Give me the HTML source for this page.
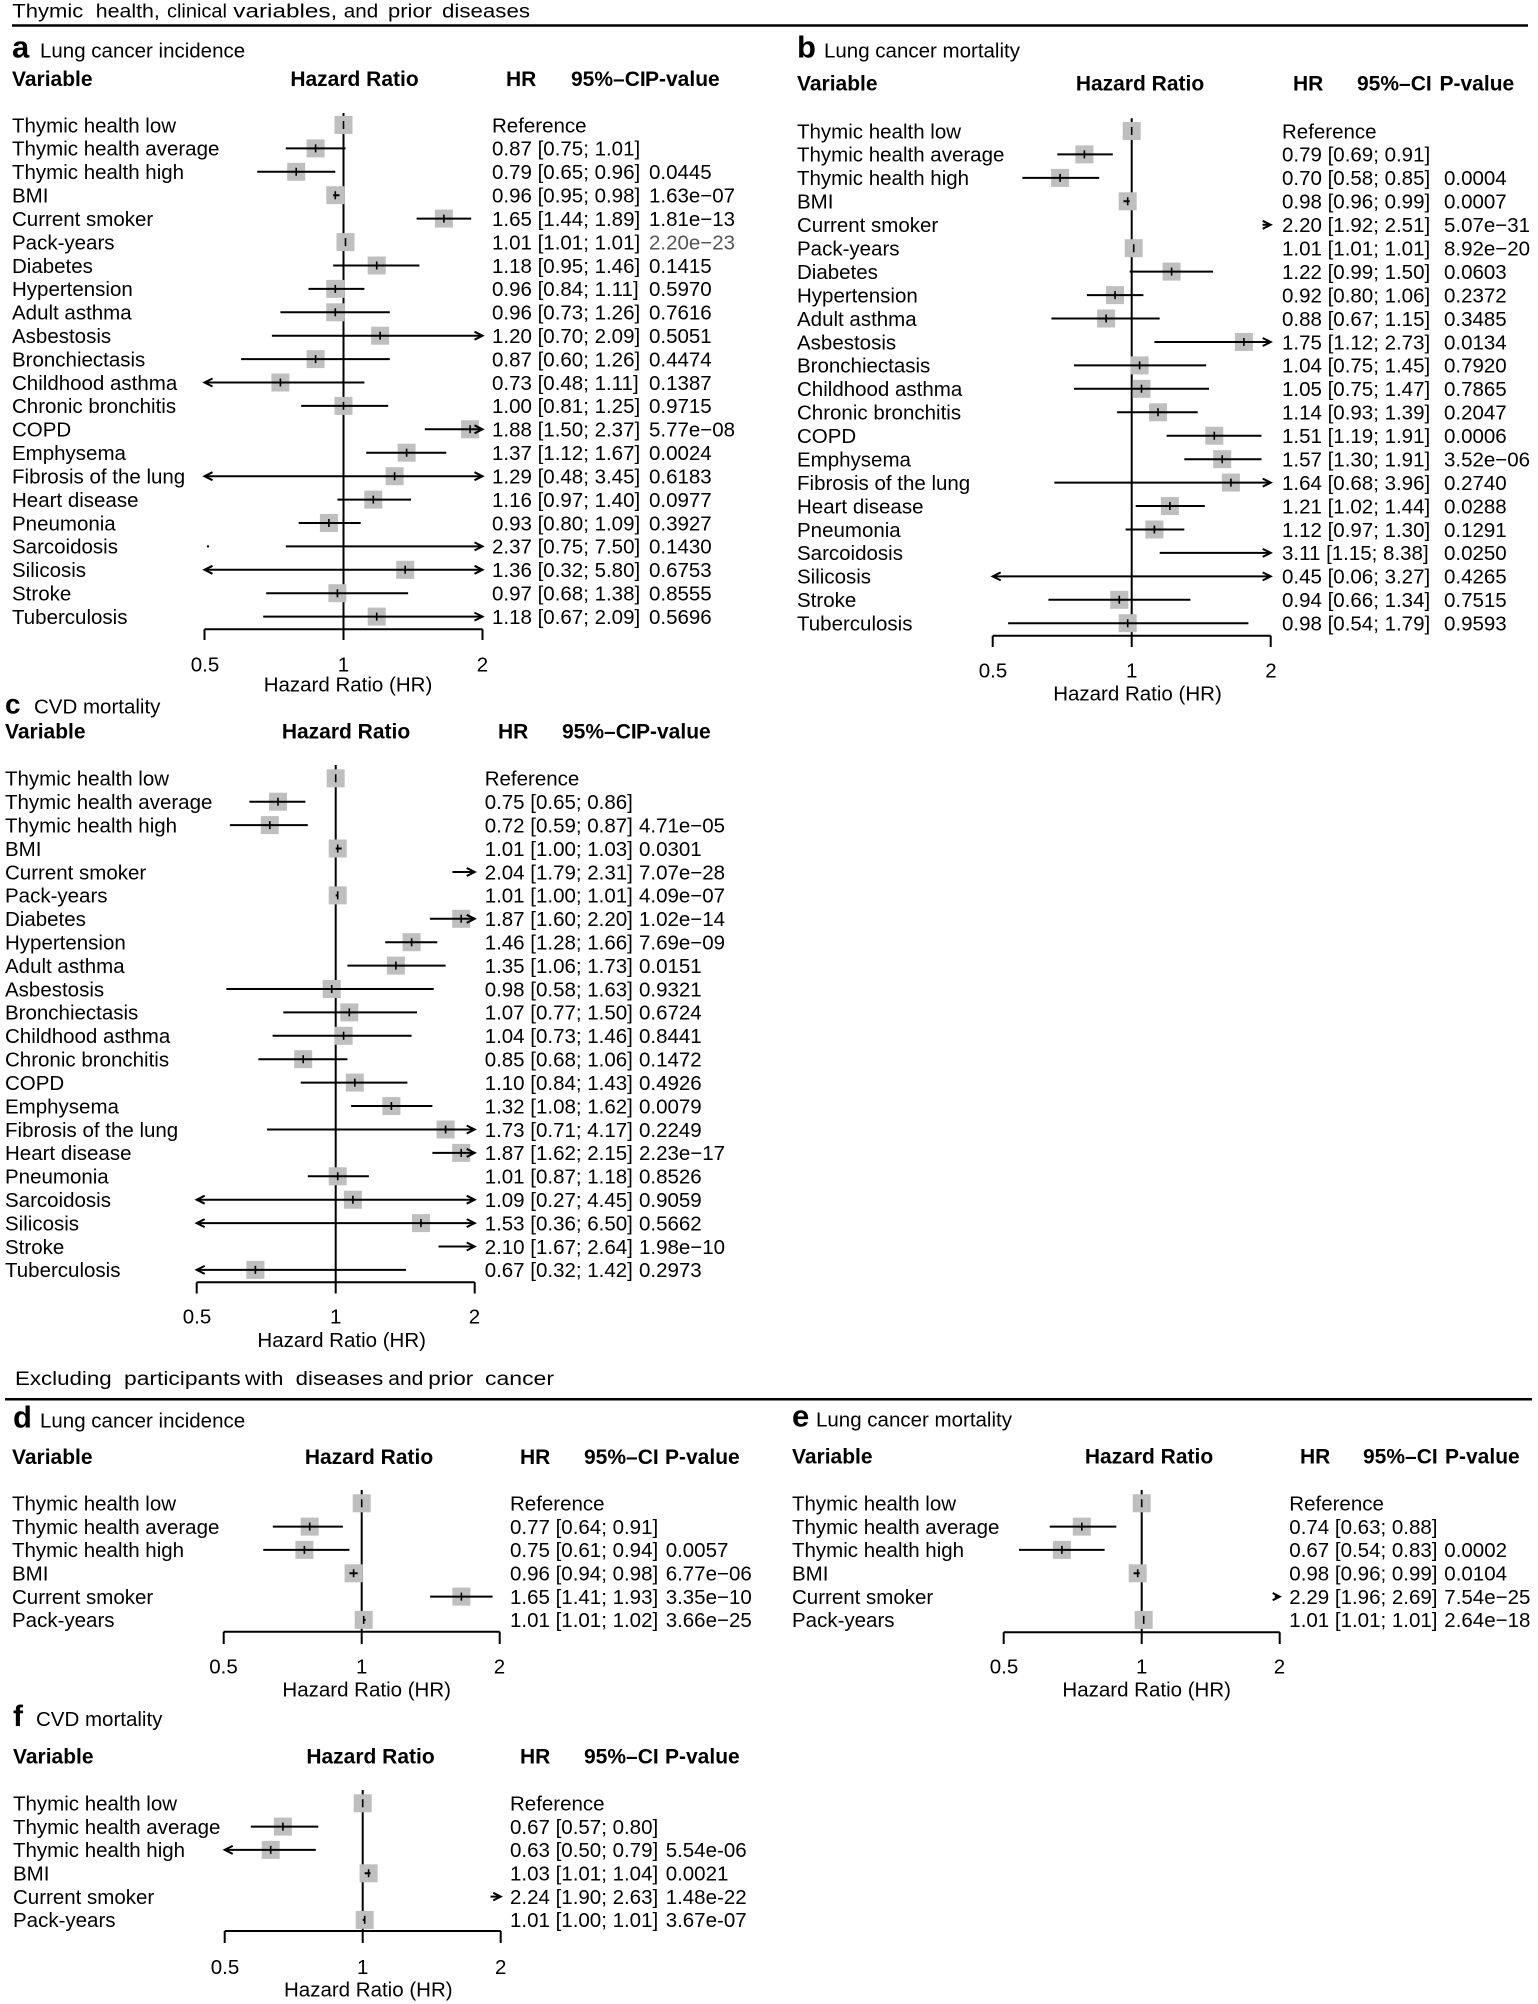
<!DOCTYPE html>
<html><head><meta charset="utf-8">
<style>
html,body{margin:0;padding:0;background:#fff;}
svg{display:block;}
text{font-family:"Liberation Sans",Arial,Helvetica,sans-serif;font-size:20.5px;fill:#000;}
.h{font-weight:bold;font-size:21px;}
.L{font-weight:bold;}
.ttl{font-size:19px;}
.m{text-anchor:middle;}
.ln{stroke:#000;stroke-width:2;fill:none;}
.tk{stroke:#000;stroke-width:1.6;fill:none;}
.bx{fill:#bfbfbf;}
</style></head>
<body>
<svg width="1538" height="2004" viewBox="0 0 1538 2004" xmlns="http://www.w3.org/2000/svg">
<rect width="1538" height="2004" fill="#fff"/>

<!-- Section 1 title -->
<text class="ttl" x="12.3" y="17.5" textLength="71" lengthAdjust="spacingAndGlyphs">Thymic</text>
<text class="ttl" x="95.8" y="17.5" textLength="64" lengthAdjust="spacingAndGlyphs">health,</text>
<text class="ttl" x="167" y="17.5" textLength="60" lengthAdjust="spacingAndGlyphs">clinical</text>
<text class="ttl" x="233.3" y="17.5" textLength="104" lengthAdjust="spacingAndGlyphs">variables,</text>
<text class="ttl" x="343.8" y="17.5" textLength="34.4" lengthAdjust="spacingAndGlyphs">and</text>
<text class="ttl" x="388" y="17.5" textLength="44" lengthAdjust="spacingAndGlyphs">prior</text>
<text class="ttl" x="442" y="17.5" textLength="88" lengthAdjust="spacingAndGlyphs">diseases</text>
<path d="M12 25.5H1528" stroke="#000" stroke-width="2.5"/>

<!-- ================= PANEL A ================= -->
<text class="L" x="12" y="57.3" style="font-size:31px">a</text>
<text x="40" y="57.3">Lung cancer incidence</text>
<text class="h" x="12" y="86">Variable</text>
<text class="h m" x="354.5" y="86">Hazard Ratio</text>
<text class="h" x="506" y="86">HR</text>
<text class="h" x="571" y="86">95%–CI</text>
<text class="h" x="645" y="86">P-value</text>

<text>
<tspan x="12" y="132.3">Thymic health low</tspan>
<tspan x="12" y="155.7">Thymic health average</tspan>
<tspan x="12" y="179.1">Thymic health high</tspan>
<tspan x="12" y="202.5">BMI</tspan>
<tspan x="12" y="225.9">Current smoker</tspan>
<tspan x="12" y="249.4">Pack-years</tspan>
<tspan x="12" y="272.8">Diabetes</tspan>
<tspan x="12" y="296.2">Hypertension</tspan>
<tspan x="12" y="319.6">Adult asthma</tspan>
<tspan x="12" y="343.0">Asbestosis</tspan>
<tspan x="12" y="366.4">Bronchiectasis</tspan>
<tspan x="12" y="389.8">Childhood asthma</tspan>
<tspan x="12" y="413.2">Chronic bronchitis</tspan>
<tspan x="12" y="436.6">COPD</tspan>
<tspan x="12" y="460.0">Emphysema</tspan>
<tspan x="12" y="483.5">Fibrosis of the lung</tspan>
<tspan x="12" y="506.9">Heart disease</tspan>
<tspan x="12" y="530.3">Pneumonia</tspan>
<tspan x="12" y="553.7">Sarcoidosis</tspan>
<tspan x="12" y="577.1">Silicosis</tspan>
<tspan x="12" y="600.5">Stroke</tspan>
<tspan x="12" y="623.9">Tuberculosis</tspan>
</text>
<text>
<tspan x="492" y="132.3">Reference</tspan>
<tspan x="492" y="155.7">0.87 [0.75; 1.01]</tspan>
<tspan x="492" y="179.1">0.79 [0.65; 0.96]</tspan>
<tspan x="492" y="202.5">0.96 [0.95; 0.98]</tspan>
<tspan x="492" y="225.9">1.65 [1.44; 1.89]</tspan>
<tspan x="492" y="249.4">1.01 [1.01; 1.01]</tspan>
<tspan x="492" y="272.8">1.18 [0.95; 1.46]</tspan>
<tspan x="492" y="296.2">0.96 [0.84; 1.11]</tspan>
<tspan x="492" y="319.6">0.96 [0.73; 1.26]</tspan>
<tspan x="492" y="343.0">1.20 [0.70; 2.09]</tspan>
<tspan x="492" y="366.4">0.87 [0.60; 1.26]</tspan>
<tspan x="492" y="389.8">0.73 [0.48; 1.11]</tspan>
<tspan x="492" y="413.2">1.00 [0.81; 1.25]</tspan>
<tspan x="492" y="436.6">1.88 [1.50; 2.37]</tspan>
<tspan x="492" y="460.0">1.37 [1.12; 1.67]</tspan>
<tspan x="492" y="483.5">1.29 [0.48; 3.45]</tspan>
<tspan x="492" y="506.9">1.16 [0.97; 1.40]</tspan>
<tspan x="492" y="530.3">0.93 [0.80; 1.09]</tspan>
<tspan x="492" y="553.7">2.37 [0.75; 7.50]</tspan>
<tspan x="492" y="577.1">1.36 [0.32; 5.80]</tspan>
<tspan x="492" y="600.5">0.97 [0.68; 1.38]</tspan>
<tspan x="492" y="623.9">1.18 [0.67; 2.09]</tspan>
</text>
<text>
<tspan x="649" y="179.1">0.0445</tspan>
<tspan x="649" y="202.5">1.63e−07</tspan>
<tspan x="649" y="225.9">1.81e−13</tspan>
<tspan x="649" y="249.4" style="fill:#555">2.20e−23</tspan>
<tspan x="649" y="272.8">0.1415</tspan>
<tspan x="649" y="296.2">0.5970</tspan>
<tspan x="649" y="319.6">0.7616</tspan>
<tspan x="649" y="343.0">0.5051</tspan>
<tspan x="649" y="366.4">0.4474</tspan>
<tspan x="649" y="389.8">0.1387</tspan>
<tspan x="649" y="413.2">0.9715</tspan>
<tspan x="649" y="436.6">5.77e−08</tspan>
<tspan x="649" y="460.0">0.0024</tspan>
<tspan x="649" y="483.5">0.6183</tspan>
<tspan x="649" y="506.9">0.0977</tspan>
<tspan x="649" y="530.3">0.3927</tspan>
<tspan x="649" y="553.7">0.1430</tspan>
<tspan x="649" y="577.1">0.6753</tspan>
<tspan x="649" y="600.5">0.8555</tspan>
<tspan x="649" y="623.9">0.5696</tspan>
</text>

<path class="ln" d="M343.5 113V629.3M204.5 629.3H482.5M204.5 629.3V640M343.5 629.3V640M482.5 629.3V640"/>
<g class="bx">
<rect x="334.5" y="116" width="18" height="18"/>
<rect x="306.6" y="139.4" width="18" height="18"/>
<rect x="287.2" y="162.8" width="18" height="18"/>
<rect x="326.3" y="186.2" width="18" height="18"/>
<rect x="434.9" y="209.6" width="18" height="18"/>
<rect x="336.5" y="233.1" width="18" height="18"/>
<rect x="367.7" y="256.5" width="18" height="18"/>
<rect x="326.3" y="279.9" width="18" height="18"/>
<rect x="326.3" y="303.3" width="18" height="18"/>
<rect x="371.1" y="326.7" width="18" height="18"/>
<rect x="306.6" y="350.1" width="18" height="18"/>
<rect x="271.4" y="373.5" width="18" height="18"/>
<rect x="334.5" y="396.9" width="18" height="18"/>
<rect x="461.1" y="420.3" width="18" height="18"/>
<rect x="397.6" y="443.7" width="18" height="18"/>
<rect x="385.6" y="467.2" width="18" height="18"/>
<rect x="364.3" y="490.6" width="18" height="18"/>
<rect x="319.9" y="514" width="18" height="18"/>
<rect x="396.2" y="560.8" width="18" height="18"/>
<rect x="328.4" y="584.2" width="18" height="18"/>
<rect x="367.7" y="607.6" width="18" height="18"/>
</g>
<path class="ln" d="M285.8 148.4H345.5M257.2 171.8H335.3M333.2 195.2H339.5M416.6 218.6H471.2M333.2 265.5H419.4M308.5 288.9H364.4M280.4 312.3H389.8M271.9 335.7H482.5M241.1 359.1H389.8M204.5 382.5H364.4M301.2 405.9H388.2M424.8 429.3H482.5M366.2 452.7H446.3M204.5 476.2H482.5M337.4 499.6H411M298.7 523H360.7M285.8 546.4H482.5M204.5 569.8H482.5M266.2 593.2H408.1M263.2 616.6H482.5"/>
<path class="ln" d="M474.5 331.7L482.5 335.7L474.5 339.7M212.5 378.5L204.5 382.5L212.5 386.5M474.5 425.3L482.5 429.3L474.5 433.3M212.5 472.2L204.5 476.2L212.5 480.2M474.5 472.2L482.5 476.2L474.5 480.2M474.5 542.4L482.5 546.4L474.5 550.4M212.5 565.8L204.5 569.8L212.5 573.8M474.5 565.8L482.5 569.8L474.5 573.8M474.5 612.6L482.5 616.6L474.5 620.6"/>
<circle cx="208" cy="546.4" r="1.2" fill="#000"/>
<path class="tk" d="M343.5 121V129M315.6 144.4V152.4M296.2 167.8V175.8M335.3 191.2V199.2M443.9 214.6V222.6M345.5 238.1V246.1M376.7 261.5V269.5M335.3 284.9V292.9M335.3 308.3V316.3M380.1 331.7V339.7M315.6 355.1V363.1M280.4 378.5V386.5M343.5 401.9V409.9M470.1 425.3V433.3M406.6 448.7V456.7M394.6 472.2V480.2M373.3 495.6V503.6M328.9 519V527M405.2 565.8V573.8M337.4 589.2V597.2M376.7 612.6V620.6"/>
<text class="m" x="205" y="671.5">0.5</text>
<text class="m" x="343.5" y="671.5">1</text>
<text class="m" x="482.5" y="671.5">2</text>
<text class="m" x="348" y="691.7">Hazard Ratio (HR)</text>

<!-- ================= PANEL B ================= -->
<text class="L" x="797" y="57.3" style="font-size:31px">b</text>
<text x="824" y="57.3">Lung cancer mortality</text>
<text class="h" x="797" y="90.7">Variable</text>
<text class="h m" x="1140" y="90.7">Hazard Ratio</text>
<text class="h" x="1293" y="90.7">HR</text>
<text class="h" x="1357" y="90.7">95%–CI</text>
<text class="h" x="1439.5" y="90.7">P-value</text>

<text>
<tspan x="797" y="138.3">Thymic health low</tspan>
<tspan x="797" y="161.7">Thymic health average</tspan>
<tspan x="797" y="185.2">Thymic health high</tspan>
<tspan x="797" y="208.6">BMI</tspan>
<tspan x="797" y="232.1">Current smoker</tspan>
<tspan x="797" y="255.5">Pack-years</tspan>
<tspan x="797" y="278.9">Diabetes</tspan>
<tspan x="797" y="302.4">Hypertension</tspan>
<tspan x="797" y="325.8">Adult asthma</tspan>
<tspan x="797" y="349.3">Asbestosis</tspan>
<tspan x="797" y="372.7">Bronchiectasis</tspan>
<tspan x="797" y="396.1">Childhood asthma</tspan>
<tspan x="797" y="419.6">Chronic bronchitis</tspan>
<tspan x="797" y="443.0">COPD</tspan>
<tspan x="797" y="466.5">Emphysema</tspan>
<tspan x="797" y="489.9">Fibrosis of the lung</tspan>
<tspan x="797" y="513.3">Heart disease</tspan>
<tspan x="797" y="536.8">Pneumonia</tspan>
<tspan x="797" y="560.2">Sarcoidosis</tspan>
<tspan x="797" y="583.7">Silicosis</tspan>
<tspan x="797" y="607.1">Stroke</tspan>
<tspan x="797" y="630.5">Tuberculosis</tspan>
</text>
<text>
<tspan x="1282" y="138.3">Reference</tspan>
<tspan x="1282" y="161.7">0.79 [0.69; 0.91]</tspan>
<tspan x="1282" y="185.2">0.70 [0.58; 0.85]</tspan>
<tspan x="1282" y="208.6">0.98 [0.96; 0.99]</tspan>
<tspan x="1282" y="232.1">2.20 [1.92; 2.51]</tspan>
<tspan x="1282" y="255.5">1.01 [1.01; 1.01]</tspan>
<tspan x="1282" y="278.9">1.22 [0.99; 1.50]</tspan>
<tspan x="1282" y="302.4">0.92 [0.80; 1.06]</tspan>
<tspan x="1282" y="325.8">0.88 [0.67; 1.15]</tspan>
<tspan x="1282" y="349.3">1.75 [1.12; 2.73]</tspan>
<tspan x="1282" y="372.7">1.04 [0.75; 1.45]</tspan>
<tspan x="1282" y="396.1">1.05 [0.75; 1.47]</tspan>
<tspan x="1282" y="419.6">1.14 [0.93; 1.39]</tspan>
<tspan x="1282" y="443.0">1.51 [1.19; 1.91]</tspan>
<tspan x="1282" y="466.5">1.57 [1.30; 1.91]</tspan>
<tspan x="1282" y="489.9">1.64 [0.68; 3.96]</tspan>
<tspan x="1282" y="513.3">1.21 [1.02; 1.44]</tspan>
<tspan x="1282" y="536.8">1.12 [0.97; 1.30]</tspan>
<tspan x="1282" y="560.2">3.11 [1.15; 8.38]</tspan>
<tspan x="1282" y="583.7">0.45 [0.06; 3.27]</tspan>
<tspan x="1282" y="607.1">0.94 [0.66; 1.34]</tspan>
<tspan x="1282" y="630.5">0.98 [0.54; 1.79]</tspan>
</text>
<text>
<tspan x="1444" y="185.2">0.0004</tspan>
<tspan x="1444" y="208.6">0.0007</tspan>
<tspan x="1444" y="232.1">5.07e−31</tspan>
<tspan x="1444" y="255.5">8.92e−20</tspan>
<tspan x="1444" y="278.9">0.0603</tspan>
<tspan x="1444" y="302.4">0.2372</tspan>
<tspan x="1444" y="325.8">0.3485</tspan>
<tspan x="1444" y="349.3">0.0134</tspan>
<tspan x="1444" y="372.7">0.7920</tspan>
<tspan x="1444" y="396.1">0.7865</tspan>
<tspan x="1444" y="419.6">0.2047</tspan>
<tspan x="1444" y="443.0">0.0006</tspan>
<tspan x="1444" y="466.5">3.52e−06</tspan>
<tspan x="1444" y="489.9">0.2740</tspan>
<tspan x="1444" y="513.3">0.0288</tspan>
<tspan x="1444" y="536.8">0.1291</tspan>
<tspan x="1444" y="560.2">0.0250</tspan>
<tspan x="1444" y="583.7">0.4265</tspan>
<tspan x="1444" y="607.1">0.7515</tspan>
<tspan x="1444" y="630.5">0.9593</tspan>
</text>

<path class="ln" d="M1131.7 118.3V635.7M992.7 635.7H1270.7M992.7 635.7V647M1131.7 635.7V647M1270.7 635.7V647"/>
<g class="bx">
<rect x="1122.7" y="122" width="18" height="18"/>
<rect x="1075.4" y="145.4" width="18" height="18"/>
<rect x="1051.1" y="168.9" width="18" height="18"/>
<rect x="1118.7" y="192.3" width="18" height="18"/>
<rect x="1124.7" y="239.2" width="18" height="18"/>
<rect x="1162.6" y="262.6" width="18" height="18"/>
<rect x="1106" y="286.1" width="18" height="18"/>
<rect x="1097.1" y="309.5" width="18" height="18"/>
<rect x="1234.9" y="333" width="18" height="18"/>
<rect x="1130.6" y="356.4" width="18" height="18"/>
<rect x="1132.5" y="379.8" width="18" height="18"/>
<rect x="1149" y="403.3" width="18" height="18"/>
<rect x="1205.3" y="426.7" width="18" height="18"/>
<rect x="1213.2" y="450.2" width="18" height="18"/>
<rect x="1221.9" y="473.6" width="18" height="18"/>
<rect x="1160.9" y="497" width="18" height="18"/>
<rect x="1145.4" y="520.5" width="18" height="18"/>
<rect x="1110.3" y="590.8" width="18" height="18"/>
<rect x="1118.7" y="614.2" width="18" height="18"/>
</g>
<path class="ln" d="M1057.3 154.4H1112.8M1022.4 177.9H1099.2M1123.5 201.3H1129.7M1262.5 224.8H1270.7M1129.7 271.6H1213M1086.9 295.1H1143.4M1051.4 318.5H1159.7M1154.4 342H1270.7M1074 365.4H1206.2M1074 388.8H1209M1117.1 412.3H1197.7M1166.6 435.7H1261.5M1184.3 459.2H1261.5M1054.4 482.6H1270.7M1135.7 506H1204.8M1125.6 529.5H1184.3M1159.7 552.9H1270.7M992.7 576.4H1270.7M1048.4 599.8H1190.4M1008.1 623.2H1248.4"/>
<path class="ln" d="M1262.7 220.8L1270.7 224.8L1262.7 228.8M1262.7 338L1270.7 342L1262.7 346M1262.7 478.6L1270.7 482.6L1262.7 486.6M1262.7 548.9L1270.7 552.9L1262.7 556.9M1000.7 572.4L992.7 576.4L1000.7 580.4M1262.7 572.4L1270.7 576.4L1262.7 580.4"/>
<path class="tk" d="M1131.7 127V135M1084.4 150.4V158.4M1060.1 173.9V181.9M1127.7 197.3V205.3M1133.7 244.2V252.2M1171.6 267.6V275.6M1115 291.1V299.1M1106.1 314.5V322.5M1243.9 338V346M1139.6 361.4V369.4M1141.5 384.8V392.8M1158 408.3V416.3M1214.3 431.7V439.7M1222.2 455.2V463.2M1230.9 478.6V486.6M1169.9 502V510M1154.4 525.5V533.5M1119.3 595.8V603.8M1127.7 619.2V627.2"/>
<text class="m" x="993" y="677.3">0.5</text>
<text class="m" x="1131.7" y="677.3">1</text>
<text class="m" x="1271" y="677.3">2</text>
<text class="m" x="1137.5" y="700.5">Hazard Ratio (HR)</text>

<!-- ================= PANEL C ================= -->
<text class="L" x="5" y="713.3" style="font-size:28px">c</text>
<text x="34" y="713.3">CVD mortality</text>
<text class="h" x="5" y="738.3">Variable</text>
<text class="h m" x="346" y="738.3">Hazard Ratio</text>
<text class="h" x="498" y="738.3">HR</text>
<text class="h" x="562" y="738.3">95%–CI</text>
<text class="h" x="636" y="738.3">P-value</text>

<text>
<tspan x="5" y="785.6">Thymic health low</tspan>
<tspan x="5" y="809.0">Thymic health average</tspan>
<tspan x="5" y="832.4">Thymic health high</tspan>
<tspan x="5" y="855.8">BMI</tspan>
<tspan x="5" y="879.3">Current smoker</tspan>
<tspan x="5" y="902.7">Pack-years</tspan>
<tspan x="5" y="926.1">Diabetes</tspan>
<tspan x="5" y="949.5">Hypertension</tspan>
<tspan x="5" y="972.9">Adult asthma</tspan>
<tspan x="5" y="996.3">Asbestosis</tspan>
<tspan x="5" y="1019.7">Bronchiectasis</tspan>
<tspan x="5" y="1043.1">Childhood asthma</tspan>
<tspan x="5" y="1066.5">Chronic bronchitis</tspan>
<tspan x="5" y="1089.9">COPD</tspan>
<tspan x="5" y="1113.3">Emphysema</tspan>
<tspan x="5" y="1136.8">Fibrosis of the lung</tspan>
<tspan x="5" y="1160.2">Heart disease</tspan>
<tspan x="5" y="1183.6">Pneumonia</tspan>
<tspan x="5" y="1207.0">Sarcoidosis</tspan>
<tspan x="5" y="1230.4">Silicosis</tspan>
<tspan x="5" y="1253.8">Stroke</tspan>
<tspan x="5" y="1277.2">Tuberculosis</tspan>
</text>
<text>
<tspan x="484.7" y="785.6">Reference</tspan>
<tspan x="484.7" y="809.0">0.75 [0.65; 0.86]</tspan>
<tspan x="484.7" y="832.4">0.72 [0.59; 0.87]</tspan>
<tspan x="484.7" y="855.8">1.01 [1.00; 1.03]</tspan>
<tspan x="484.7" y="879.3">2.04 [1.79; 2.31]</tspan>
<tspan x="484.7" y="902.7">1.01 [1.00; 1.01]</tspan>
<tspan x="484.7" y="926.1">1.87 [1.60; 2.20]</tspan>
<tspan x="484.7" y="949.5">1.46 [1.28; 1.66]</tspan>
<tspan x="484.7" y="972.9">1.35 [1.06; 1.73]</tspan>
<tspan x="484.7" y="996.3">0.98 [0.58; 1.63]</tspan>
<tspan x="484.7" y="1019.7">1.07 [0.77; 1.50]</tspan>
<tspan x="484.7" y="1043.1">1.04 [0.73; 1.46]</tspan>
<tspan x="484.7" y="1066.5">0.85 [0.68; 1.06]</tspan>
<tspan x="484.7" y="1089.9">1.10 [0.84; 1.43]</tspan>
<tspan x="484.7" y="1113.3">1.32 [1.08; 1.62]</tspan>
<tspan x="484.7" y="1136.8">1.73 [0.71; 4.17]</tspan>
<tspan x="484.7" y="1160.2">1.87 [1.62; 2.15]</tspan>
<tspan x="484.7" y="1183.6">1.01 [0.87; 1.18]</tspan>
<tspan x="484.7" y="1207.0">1.09 [0.27; 4.45]</tspan>
<tspan x="484.7" y="1230.4">1.53 [0.36; 6.50]</tspan>
<tspan x="484.7" y="1253.8">2.10 [1.67; 2.64]</tspan>
<tspan x="484.7" y="1277.2">0.67 [0.32; 1.42]</tspan>
</text>
<text>
<tspan x="639" y="832.4">4.71e−05</tspan>
<tspan x="639" y="855.8">0.0301</tspan>
<tspan x="639" y="879.3">7.07e−28</tspan>
<tspan x="639" y="902.7">4.09e−07</tspan>
<tspan x="639" y="926.1">1.02e−14</tspan>
<tspan x="639" y="949.5">7.69e−09</tspan>
<tspan x="639" y="972.9">0.0151</tspan>
<tspan x="639" y="996.3">0.9321</tspan>
<tspan x="639" y="1019.7">0.6724</tspan>
<tspan x="639" y="1043.1">0.8441</tspan>
<tspan x="639" y="1066.5">0.1472</tspan>
<tspan x="639" y="1089.9">0.4926</tspan>
<tspan x="639" y="1113.3">0.0079</tspan>
<tspan x="639" y="1136.8">0.2249</tspan>
<tspan x="639" y="1160.2">2.23e−17</tspan>
<tspan x="639" y="1183.6">0.8526</tspan>
<tspan x="639" y="1207.0">0.9059</tspan>
<tspan x="639" y="1230.4">0.5662</tspan>
<tspan x="639" y="1253.8">1.98e−10</tspan>
<tspan x="639" y="1277.2">0.2973</tspan>
</text>

<path class="ln" d="M335.7 765V1282.3M196.7 1282.3H474.7M196.7 1282.3V1293.5M335.7 1282.3V1293.5M474.7 1282.3V1293.5"/>
<g class="bx">
<rect x="326.7" y="769.3" width="18" height="18"/>
<rect x="269" y="792.7" width="18" height="18"/>
<rect x="260.8" y="816.1" width="18" height="18"/>
<rect x="328.7" y="839.5" width="18" height="18"/>
<rect x="328.7" y="886.4" width="18" height="18"/>
<rect x="452.2" y="909.8" width="18" height="18"/>
<rect x="402.6" y="933.2" width="18" height="18"/>
<rect x="386.9" y="956.6" width="18" height="18"/>
<rect x="322.7" y="980" width="18" height="18"/>
<rect x="340.3" y="1003.4" width="18" height="18"/>
<rect x="334.6" y="1026.8" width="18" height="18"/>
<rect x="294.2" y="1050.2" width="18" height="18"/>
<rect x="345.8" y="1073.6" width="18" height="18"/>
<rect x="382.4" y="1097" width="18" height="18"/>
<rect x="436.6" y="1120.5" width="18" height="18"/>
<rect x="452.2" y="1143.9" width="18" height="18"/>
<rect x="328.7" y="1167.3" width="18" height="18"/>
<rect x="343.9" y="1190.7" width="18" height="18"/>
<rect x="412" y="1214.1" width="18" height="18"/>
<rect x="246.4" y="1260.9" width="18" height="18"/>
</g>
<path class="ln" d="M249.4 801.7H305.4M229.9 825.1H307.8M335.7 848.5H341.6M452.4 872H474.7M335.7 895.4H337.7M429.9 918.8H474.7M385.2 942.2H437.3M347.4 965.6H445.6M226.4 989H433.7M283.3 1012.4H417M272.6 1035.8H411.6M258.4 1059.2H347.4M300.7 1082.6H407.4M351.1 1106H432.4M267 1129.5H474.7M432.4 1152.9H474.7M307.8 1176.3H368.9M196.7 1199.7H474.7M196.7 1223.1H474.7M438.5 1246.5H474.7M196.7 1269.9H406"/>
<path class="ln" d="M466.7 868L474.7 872L466.7 876M466.7 914.8L474.7 918.8L466.7 922.8M466.7 1125.5L474.7 1129.5L466.7 1133.5M466.7 1148.9L474.7 1152.9L466.7 1156.9M204.7 1195.7L196.7 1199.7L204.7 1203.7M466.7 1195.7L474.7 1199.7L466.7 1203.7M204.7 1219.1L196.7 1223.1L204.7 1227.1M466.7 1219.1L474.7 1223.1L466.7 1227.1M466.7 1242.5L474.7 1246.5L466.7 1250.5M204.7 1265.9L196.7 1269.9L204.7 1273.9"/>
<path class="tk" d="M335.7 774.3V782.3M278 797.7V805.7M269.8 821.1V829.1M337.7 844.5V852.5M337.7 891.4V899.4M461.2 914.8V922.8M411.6 938.2V946.2M395.9 961.6V969.6M331.7 985V993M349.3 1008.4V1016.4M343.6 1031.8V1039.8M303.2 1055.2V1063.2M354.8 1078.6V1086.6M391.4 1102V1110M445.6 1125.5V1133.5M461.2 1148.9V1156.9M337.7 1172.3V1180.3M352.9 1195.7V1203.7M421 1219.1V1227.1M255.4 1265.9V1273.9"/>
<text class="m" x="197" y="1323.3">0.5</text>
<text class="m" x="335.7" y="1323.3">1</text>
<text class="m" x="474.5" y="1323.3">2</text>
<text class="m" x="341.7" y="1347">Hazard Ratio (HR)</text>

<!-- Section 2 title -->
<text class="ttl" x="15" y="1385" textLength="96.7" lengthAdjust="spacingAndGlyphs">Excluding</text>
<text class="ttl" x="124" y="1385" textLength="116.7" lengthAdjust="spacingAndGlyphs">participants</text>
<text class="ttl" x="245" y="1385" textLength="38.3" lengthAdjust="spacingAndGlyphs">with</text>
<text class="ttl" x="295.7" y="1385" textLength="87.6" lengthAdjust="spacingAndGlyphs">diseases</text>
<text class="ttl" x="388.3" y="1385" textLength="35" lengthAdjust="spacingAndGlyphs">and</text>
<text class="ttl" x="428.3" y="1385" textLength="45" lengthAdjust="spacingAndGlyphs">prior</text>
<text class="ttl" x="485" y="1385" textLength="69" lengthAdjust="spacingAndGlyphs">cancer</text>
<path d="M5 1399.3H1532" stroke="#000" stroke-width="2.5"/>

<!-- ================= PANEL D ================= -->
<text class="L" x="13" y="1427.3" style="font-size:31px">d</text>
<text x="40" y="1427.3">Lung cancer incidence</text>
<text class="h" x="12" y="1464">Variable</text>
<text class="h m" x="369" y="1464">Hazard Ratio</text>
<text class="h" x="520" y="1464">HR</text>
<text class="h" x="584" y="1464">95%–CI</text>
<text class="h" x="665" y="1464">P-value</text>
<text>
<tspan x="12" y="1510.6">Thymic health low</tspan>
<tspan x="12" y="1533.9">Thymic health average</tspan>
<tspan x="12" y="1557.2">Thymic health high</tspan>
<tspan x="12" y="1580.6">BMI</tspan>
<tspan x="12" y="1603.9">Current smoker</tspan>
<tspan x="12" y="1627.2">Pack-years</tspan>
</text>
<text>
<tspan x="510" y="1510.6">Reference</tspan>
<tspan x="510" y="1533.9">0.77 [0.64; 0.91]</tspan>
<tspan x="510" y="1557.2">0.75 [0.61; 0.94]</tspan>
<tspan x="510" y="1580.6">0.96 [0.94; 0.98]</tspan>
<tspan x="510" y="1603.9">1.65 [1.41; 1.93]</tspan>
<tspan x="510" y="1627.2">1.01 [1.01; 1.02]</tspan>
</text>
<text>
<tspan x="665.7" y="1557.2">0.0057</tspan>
<tspan x="665.7" y="1580.6">6.77e−06</tspan>
<tspan x="665.7" y="1603.9">3.35e−10</tspan>
<tspan x="665.7" y="1627.2">3.66e−25</tspan>
</text>
<path class="ln" d="M361.7 1490V1631.7M223.7 1631.7H499.7M223.7 1631.7V1644M361.7 1631.7V1644M499.7 1631.7V1644"/>
<g class="bx">
<rect x="352.7" y="1494.3" width="18" height="18"/>
<rect x="300.7" y="1517.6" width="18" height="18"/>
<rect x="295.4" y="1540.9" width="18" height="18"/>
<rect x="344.6" y="1564.3" width="18" height="18"/>
<rect x="452.4" y="1587.6" width="18" height="18"/>
<rect x="354.7" y="1610.9" width="18" height="18"/>
</g>
<path class="ln" d="M272.8 1526.6H342.9M263.3 1549.9H349.4M349.4 1573.3H357.7M430.1 1596.6H492.6M363.7 1619.9H365.6"/>
<path class="tk" d="M361.7 1499.3V1507.3M309.7 1522.6V1530.6M304.4 1545.9V1553.9M353.6 1569.3V1577.3M461.4 1592.6V1600.6M363.7 1615.9V1623.9"/>
<text class="m" x="223.5" y="1673.3">0.5</text>
<text class="m" x="361.7" y="1673.3">1</text>
<text class="m" x="499.5" y="1673.3">2</text>
<text class="m" x="366.7" y="1696.7">Hazard Ratio (HR)</text>

<!-- ================= PANEL E ================= -->
<text class="L" x="792" y="1426.7" style="font-size:31px">e</text>
<text x="816" y="1426.7">Lung cancer mortality</text>
<text class="h" x="792" y="1463.3">Variable</text>
<text class="h m" x="1149" y="1463.3">Hazard Ratio</text>
<text class="h" x="1300" y="1463.3">HR</text>
<text class="h" x="1363" y="1463.3">95%–CI</text>
<text class="h" x="1445" y="1463.3">P-value</text>
<text>
<tspan x="792" y="1510.6">Thymic health low</tspan>
<tspan x="792" y="1533.9">Thymic health average</tspan>
<tspan x="792" y="1557.2">Thymic health high</tspan>
<tspan x="792" y="1580.6">BMI</tspan>
<tspan x="792" y="1603.9">Current smoker</tspan>
<tspan x="792" y="1627.2">Pack-years</tspan>
</text>
<text>
<tspan x="1289.3" y="1510.6">Reference</tspan>
<tspan x="1289.3" y="1533.9">0.74 [0.63; 0.88]</tspan>
<tspan x="1289.3" y="1557.2">0.67 [0.54; 0.83]</tspan>
<tspan x="1289.3" y="1580.6">0.98 [0.96; 0.99]</tspan>
<tspan x="1289.3" y="1603.9">2.29 [1.96; 2.69]</tspan>
<tspan x="1289.3" y="1627.2">1.01 [1.01; 1.01]</tspan>
</text>
<text>
<tspan x="1444.3" y="1557.2">0.0002</tspan>
<tspan x="1444.3" y="1580.6">0.0104</tspan>
<tspan x="1444.3" y="1603.9">7.54e−25</tspan>
<tspan x="1444.3" y="1627.2">2.64e−18</tspan>
</text>
<path class="ln" d="M1141.7 1490V1632.3M1003.7 1632.3H1279.7M1003.7 1632.3V1644M1141.7 1632.3V1644M1279.7 1632.3V1644"/>
<g class="bx">
<rect x="1132.7" y="1494.3" width="18" height="18"/>
<rect x="1072.8" y="1517.6" width="18" height="18"/>
<rect x="1052.9" y="1540.9" width="18" height="18"/>
<rect x="1128.7" y="1564.3" width="18" height="18"/>
<rect x="1134.7" y="1610.9" width="18" height="18"/>
</g>
<path class="ln" d="M1049.7 1526.6H1116.3M1019 1549.9H1104.6M1133.6 1573.3H1139.7M1274.7 1596.6H1279.7"/>
<path class="ln" d="M1272.7 1593L1279.7 1596.6L1272.7 1600.2"/>
<path class="tk" d="M1141.7 1499.3V1507.3M1081.8 1522.6V1530.6M1061.9 1545.9V1553.9M1137.7 1569.3V1577.3M1143.7 1615.9V1623.9"/>
<text class="m" x="1004" y="1673.3">0.5</text>
<text class="m" x="1141.7" y="1673.3">1</text>
<text class="m" x="1279.5" y="1673.3">2</text>
<text class="m" x="1146.7" y="1696.7">Hazard Ratio (HR)</text>

<!-- ================= PANEL F ================= -->
<text class="L" x="13" y="1726" style="font-size:30px">f</text>
<text x="36" y="1726">CVD mortality</text>
<text class="h" x="13" y="1763.3">Variable</text>
<text class="h m" x="370.5" y="1763.3">Hazard Ratio</text>
<text class="h" x="520" y="1763.3">HR</text>
<text class="h" x="584" y="1763.3">95%–CI</text>
<text class="h" x="665" y="1763.3">P-value</text>
<text>
<tspan x="13" y="1810.6">Thymic health low</tspan>
<tspan x="13" y="1833.9">Thymic health average</tspan>
<tspan x="13" y="1857.2">Thymic health high</tspan>
<tspan x="13" y="1880.6">BMI</tspan>
<tspan x="13" y="1903.9">Current smoker</tspan>
<tspan x="13" y="1927.2">Pack-years</tspan>
</text>
<text>
<tspan x="510" y="1810.6">Reference</tspan>
<tspan x="510" y="1833.9">0.67 [0.57; 0.80]</tspan>
<tspan x="510" y="1857.2">0.63 [0.50; 0.79]</tspan>
<tspan x="510" y="1880.6">1.03 [1.01; 1.04]</tspan>
<tspan x="510" y="1903.9">2.24 [1.90; 2.63]</tspan>
<tspan x="510" y="1927.2">1.01 [1.00; 1.01]</tspan>
</text>
<text>
<tspan x="665.7" y="1857.2">5.54e-06</tspan>
<tspan x="665.7" y="1880.6">0.0021</tspan>
<tspan x="665.7" y="1903.9">1.48e-22</tspan>
<tspan x="665.7" y="1927.2">3.67e-07</tspan>
</text>
<path class="ln" d="M362.7 1790V1931M224.7 1931H500.7M224.7 1931V1943M362.7 1931V1943M500.7 1931V1943"/>
<g class="bx">
<rect x="353.7" y="1794.3" width="18" height="18"/>
<rect x="273.9" y="1817.6" width="18" height="18"/>
<rect x="261.7" y="1840.9" width="18" height="18"/>
<rect x="359.6" y="1864.3" width="18" height="18"/>
<rect x="355.7" y="1910.9" width="18" height="18"/>
</g>
<path class="ln" d="M250.8 1826.6H318.3M224.7 1849.9H315.8M364.7 1873.3H370.5M490.5 1896.6H500.7M362.7 1919.9H364.7"/>
<path class="ln" d="M232.7 1845.9L224.7 1849.9L232.7 1853.9M493.2 1892.8L500.7 1896.6L493.2 1900.4"/>
<path class="tk" d="M362.7 1799.3V1807.3M282.9 1822.6V1830.6M270.7 1845.9V1853.9M368.6 1869.3V1877.3M364.7 1915.9V1923.9"/>
<text class="m" x="225" y="1974">0.5</text>
<text class="m" x="362.7" y="1974">1</text>
<text class="m" x="500.7" y="1974">2</text>
<text class="m" x="368.3" y="1996.7">Hazard Ratio (HR)</text>
</svg>
</body></html>
